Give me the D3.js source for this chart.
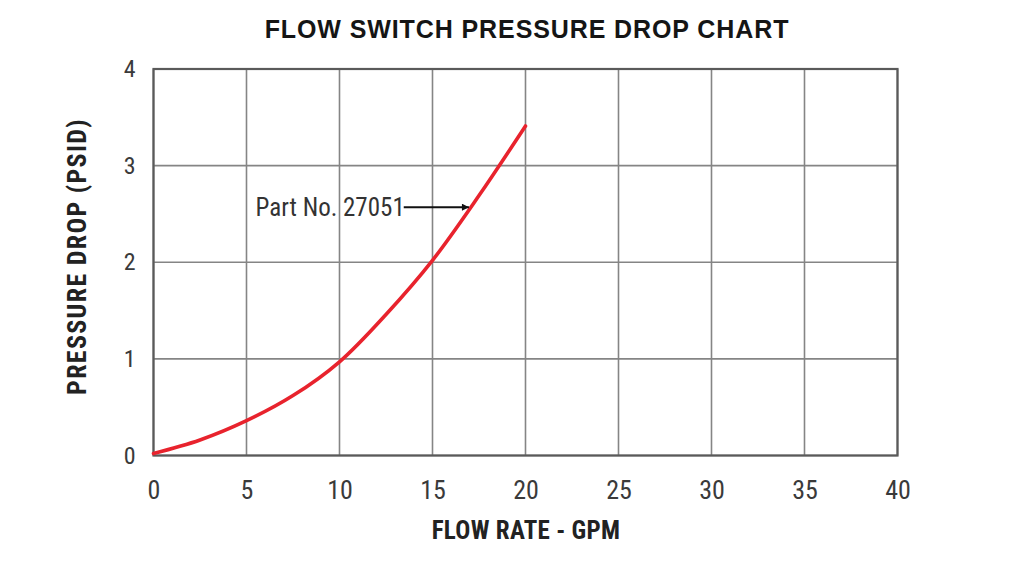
<!DOCTYPE html>
<html>
<head>
<meta charset="utf-8">
<script src="https://cdn.jsdelivr.net/npm/d3@7"></script>
<style>
  html, body { margin: 0; padding: 0; background: #fff; }
  svg { display: block; }
  .cond { font-family: "Liberation Sans Narrow", "Arial Narrow", "Roboto Condensed", "Liberation Sans", sans-serif; }
</style>
</head>
<body>
<svg id="chart" width="1024" height="576"></svg>
<script>
// ---- data ----
const flowGPM = [0, 2.5, 5, 7.5, 10, 12.5, 15, 17.5, 20];
const pressurePSID = [0.02, 0.16, 0.36, 0.62, 0.97, 1.46, 2.02, 2.69, 3.41];
const xTicks = [0, 5, 10, 15, 20, 25, 30, 35, 40];
const yTicks = [0, 1, 2, 3, 4];
const titleText = "FLOW SWITCH PRESSURE DROP CHART";
const xTitle = "FLOW RATE - GPM";
const yTitle = "PRESSURE DROP (PSID)";
const annotationText = "Part No. 27051";
const annotationTarget = [16.96, 2.57];
const annotationStartX = 13.4;

// ---- layout ----
const svg = d3.select("#chart");
const mLeft = 153.5, mRight = 897.5, mTop = 69, mBottom = 455.5;

const x = d3.scaleLinear().domain([0, 40]).range([mLeft, mRight]);
const y = d3.scaleLinear().domain([0, 4]).range([mBottom, mTop]);

// grid
const grid = svg.append("g");
grid.selectAll("line.v").data(xTicks).join("line")
  .attr("x1", d => x(d)).attr("x2", d => x(d))
  .attr("y1", mTop).attr("y2", mBottom)
  .attr("stroke", "#858585").attr("stroke-width", 1.6);
grid.selectAll("line.h").data(yTicks).join("line")
  .attr("x1", mLeft).attr("x2", mRight)
  .attr("y1", d => y(d)).attr("y2", d => y(d))
  .attr("stroke", "#858585").attr("stroke-width", 1.6);

// frame
svg.append("rect")
  .attr("x", mLeft).attr("y", mTop)
  .attr("width", mRight - mLeft).attr("height", mBottom - mTop)
  .attr("fill", "none").attr("stroke", "#5a5a5a").attr("stroke-width", 2.2);

// axes (d3 axes, domain/ticks hidden, labels kept)
const xAxis = svg.append("g")
  .attr("transform", `translate(0,${mBottom})`)
  .call(d3.axisBottom(x).tickValues(xTicks).tickFormat(d3.format("d")).tickSize(0).tickPadding(25));
xAxis.select(".domain").remove();
xAxis.selectAll("text")
  .attr("class", "cond")
  .attr("font-size", 26).attr("fill", "#3a3a3a");

const yAxis = svg.append("g")
  .attr("transform", `translate(${mLeft},0)`)
  .call(d3.axisLeft(y).tickValues(yTicks).tickFormat(d3.format("d")).tickSize(0).tickPadding(18));
yAxis.select(".domain").remove();
yAxis.selectAll("text")
  .attr("class", "cond")
  .attr("font-size", 24).attr("fill", "#3a3a3a");

// curve
const line = d3.line()
  .x((d, i) => x(flowGPM[i]))
  .y(d => y(d))
  .curve(d3.curveCatmullRom.alpha(0.5));
svg.append("path")
  .datum(pressurePSID)
  .attr("d", line)
  .attr("fill", "none")
  .attr("stroke", "#e8232d")
  .attr("stroke-width", 3.6)
  .attr("stroke-linecap", "round");

// annotation
svg.append("defs").append("marker")
  .attr("id", "arrow").attr("viewBox", "0 0 10 10")
  .attr("refX", 10).attr("refY", 5)
  .attr("markerWidth", 12).attr("markerHeight", 7)
  .attr("markerUnits", "userSpaceOnUse")
  .attr("orient", "auto")
  .append("path").attr("d", "M0,0 L10,5 L0,10 Z").attr("fill", "#111");

svg.append("line")
  .attr("x1", x(annotationStartX) + 1).attr("y1", y(annotationTarget[1]))
  .attr("x2", x(annotationTarget[0])).attr("y2", y(annotationTarget[1]))
  .attr("stroke", "#111").attr("stroke-width", 2)
  .attr("marker-end", "url(#arrow)");

svg.append("text")
  .attr("class", "cond")
  .attr("x", x(annotationStartX) + 2).attr("y", y(annotationTarget[1]) + 9)
  .attr("text-anchor", "end")
  .attr("font-size", 25).attr("fill", "#333")
  .text(annotationText);

// titles
svg.append("text")
  .attr("x", 527).attr("y", 38)
  .attr("text-anchor", "middle")
  .attr("font-family", "Liberation Sans, Arial, sans-serif")
  .attr("font-weight", "bold")
  .attr("letter-spacing", 0.9)
  .attr("font-size", 25).attr("fill", "#151515")
  .text(titleText);

svg.append("text")
  .attr("class", "cond")
  .attr("x", 526).attr("y", 539)
  .attr("text-anchor", "middle")
  .attr("font-weight", "bold")
  .attr("letter-spacing", 0.3)
  .attr("font-size", 25).attr("fill", "#222")
  .text(xTitle);

svg.append("text")
  .attr("class", "cond")
  .attr("transform", `translate(86,256.5) rotate(-90)`)
  .attr("text-anchor", "middle")
  .attr("font-weight", "bold")
  .attr("letter-spacing", 1.3)
  .attr("font-size", 26).attr("fill", "#222")
  .text(yTitle);
</script>
</body>
</html>
